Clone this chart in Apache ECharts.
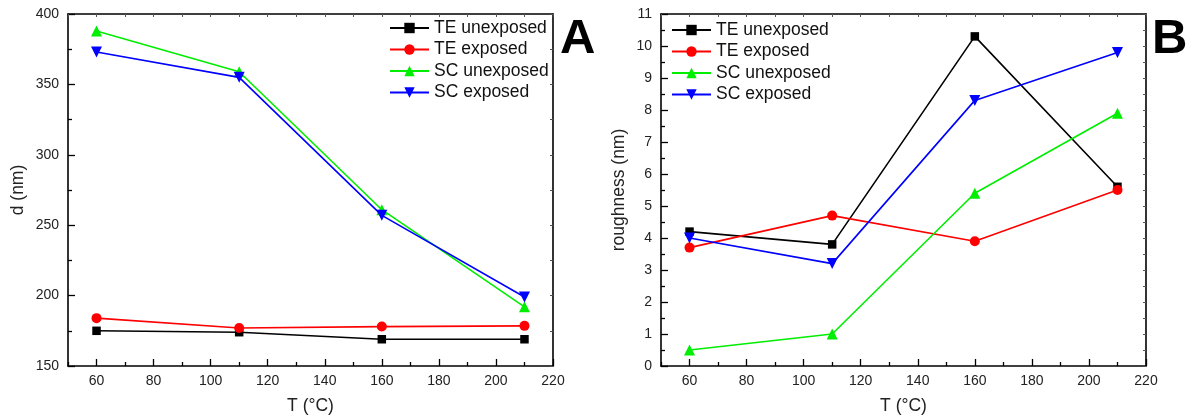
<!DOCTYPE html>
<html>
<head>
<meta charset="utf-8">
<script src="https://cdn.jsdelivr.net/npm/echarts@6/dist/echarts.min.js"></script>
<style>
html,body{margin:0;padding:0;background:#fff;}
#chart{width:1189px;height:420px;}
</style>
</head>
<body>
<div id="chart"></div>
<script>
// ---- data ----
const temps = [60, 110, 160, 210];
const seriesNames = ['TE unexposed', 'TE exposed', 'SC unexposed', 'SC exposed'];
// panel A: thickness d (nm)
const dTEunexposed = [175, 174, 169, 169];
const dTEexposed   = [184, 177, 178, 178.5];
const dSCunexposed = [388, 359, 261, 192];
const dSCexposed   = [373, 355, 257, 199];
// panel B: roughness (nm)
const rTEunexposed = [4.2, 3.8, 10.3, 5.6];
const rTEexposed   = [3.7, 4.7, 3.9, 5.5];
const rSCunexposed = [0.5, 1.0, 5.4, 7.9];
const rSCexposed   = [4.0, 3.2, 8.3, 9.8];
// tick labels
const xMajorTicks = [60, 80, 100, 120, 140, 160, 180, 200, 220];
const xMinorTicks = [50, 70, 90, 110, 130, 150, 170, 190, 210];
const xAllTicks   = [50, 60, 70, 80, 90, 100, 110, 120, 130, 140, 150, 160, 170, 180, 190, 200, 210, 220];

const FONT = '"Liberation Sans", Arial, sans-serif';
const colors = ['#000000', '#ff0000', '#00ee00', '#0000ff'];
const symbols = ['rect', 'circle', 'triangle', 'triangle'];
const symRot = [0, 0, 0, 180];
const symSize = [8.5, 10, 11, 11];

function pairs(ys) { return temps.map((t, i) => [t, ys[i]]); }

const axisLine = { show: true, lineStyle: { color: '#000', width: 1.6 } };

function xAxes(gridIndex) {
  return [
    { // bottom main: labels + major ticks
      type: 'value', gridIndex, position: 'bottom', min: 50, max: 220,
      axisLine, splitLine: { show: false },
      axisTick: { show: true, inside: true, length: 7, customValues: xMajorTicks, lineStyle: { color: '#000', width: 1.3 } },
      axisLabel: { show: true, customValues: xMajorTicks, margin: 8, color: '#222', fontSize: 14, fontFamily: FONT },
      name: 'T (°C)', nameLocation: 'middle', nameGap: 31,
      nameTextStyle: { color: '#222', fontSize: 17.5, fontFamily: FONT }
    },
    { // bottom minor ticks
      type: 'value', gridIndex, position: 'bottom', min: 50, max: 220,
      axisLine: { show: false }, splitLine: { show: false }, axisLabel: { show: false },
      axisTick: { show: true, inside: true, length: 4, customValues: xMinorTicks, lineStyle: { color: '#000', width: 1.3 } }
    },
    { // top mirrored
      type: 'value', gridIndex, position: 'top', min: 50, max: 220,
      axisLine, splitLine: { show: false }, axisLabel: { show: false },
      axisTick: { show: true, inside: true, length: 3, customValues: xAllTicks, lineStyle: { color: '#555', width: 1 } }
    }
  ];
}

function yAxes(gridIndex, min, max, interval, name, gap) {
  return [
    {
      type: 'value', gridIndex, position: 'left', min, max, interval,
      axisLine, splitLine: { show: false },
      axisTick: { show: true, inside: true, length: 7, lineStyle: { color: '#000', width: 1.3 } },
      minorTick: { show: true, splitNumber: 2, length: 4, lineStyle: { color: '#000', width: 1.3 } },
      minorSplitLine: { show: false },
      axisLabel: { show: true, margin: 9, color: '#222', fontSize: 14, fontFamily: FONT },
      name, nameLocation: 'middle', nameGap: gap, nameRotate: 90,
      nameTextStyle: { color: '#222', fontSize: 17.5, fontFamily: FONT }
    },
    {
      type: 'value', gridIndex, position: 'right', min, max, interval,
      axisLine, splitLine: { show: false }, axisLabel: { show: false },
      axisTick: { show: true, inside: true, length: 3, lineStyle: { color: '#555', width: 1 } },
      minorTick: { show: true, splitNumber: 2, length: 3, lineStyle: { color: '#555', width: 1 } },
      minorSplitLine: { show: false }
    }
  ];
}

function makeSeries(gridIdx, dataSets) {
  return dataSets.map((ys, i) => ({
    name: seriesNames[i], type: 'line',
    xAxisIndex: gridIdx * 3, yAxisIndex: gridIdx * 2,
    data: pairs(ys),
    symbol: symbols[i], symbolSize: symSize[i], symbolRotate: symRot[i],
    showAllSymbol: true,
    lineStyle: { color: colors[i], width: 1.6 },
    itemStyle: { color: colors[i] },
    emphasis: { disabled: true },
    animation: false, z: 3 + i
  }));
}

function legend(left, top) {
  return {
    orient: 'vertical', left, top, padding: 0, itemGap: 0.5,
    itemWidth: 39, itemHeight: 13,
    data: seriesNames, selectedMode: false,
    textStyle: { color: '#111', fontSize: 17.5, fontFamily: FONT, lineHeight: 21 }
  };
}

const chart = echarts.init(document.getElementById('chart'), null, { renderer: 'canvas' });
chart.setOption({
  backgroundColor: '#fff',
  animation: false,
  grid: [
    { left: 68, right: 636, top: 14, bottom: 53 },
    { left: 661, right: 43, top: 14, bottom: 52 }
  ],
  xAxis: [...xAxes(0), ...xAxes(1)],
  yAxis: [...yAxes(0, 150, 400, 50, 'd (nm)', 41), ...yAxes(1, 0, 11, 1, 'roughness (nm)', 33)],
  legend: [legend(389, 17.5), legend(671, 19.5)],
  series: [
    ...makeSeries(0, [dTEunexposed, dTEexposed, dSCunexposed, dSCexposed]),
    ...makeSeries(1, [rTEunexposed, rTEexposed, rSCunexposed, rSCexposed])
  ],
  graphic: [
    { type: 'text', left: 560, top: 15, style: { text: 'A', font: 'bold 49px ' + FONT, fill: '#000' } },
    { type: 'text', left: 1152, top: 15, style: { text: 'B', font: 'bold 49px ' + FONT, fill: '#000' } }
  ]
});
</script>
</body>
</html>
